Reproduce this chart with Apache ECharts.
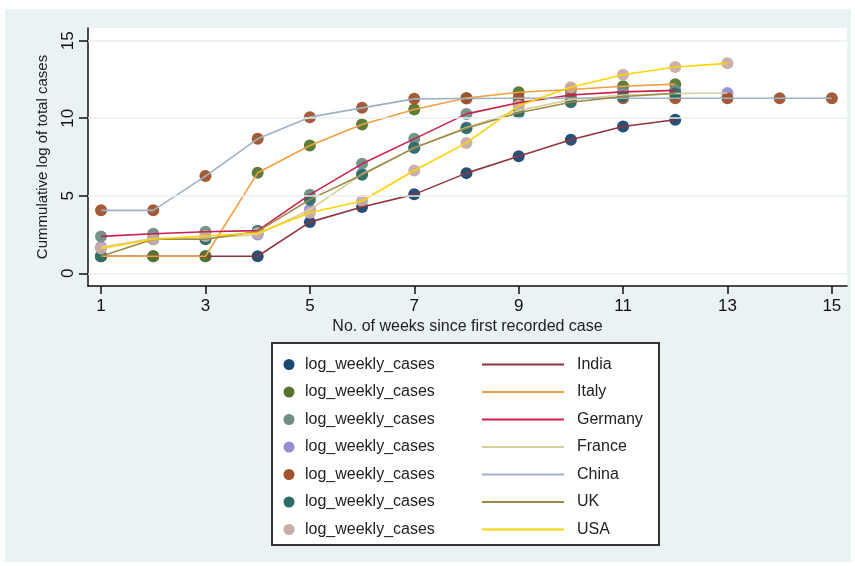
<!DOCTYPE html>
<html>
<head>
<meta charset="utf-8">
<script src="https://cdn.jsdelivr.net/npm/echarts@6/dist/echarts.min.js"></script>
<style>
  html, body { margin: 0; padding: 0; background: #ffffff; }
  #bg { position: absolute; left: 5px; top: 9px; width: 846px; height: 553px; background: #eaf2f3; }
  #chart { position: absolute; left: 0; top: 0; width: 855px; height: 566px; }
</style>
</head>
<body>
<div id="bg"></div>
<div id="chart"></div>
<script>
// ---- data ----
const countries = ['India', 'Italy', 'Germany', 'France', 'China', 'UK', 'USA'];
const weeks = [1, 2, 3, 4, 5, 6, 7, 8, 9, 10, 11, 12, 13, 14, 15];
const india   = [1.1, 1.1, 1.1, 1.1, 3.3, 4.27, 5.09, 6.46, 7.55, 8.61, 9.47, 9.9];
const italy   = [1.1, 1.1, 1.1, 6.48, 8.24, 9.6, 10.56, 11.3, 11.68, 11.85, 12.06, 12.2];
const germany = [2.38, 2.55, 2.68, 2.75, 5.07, 7.06, 8.67, 10.28, 11.0, 11.5, 11.7, 11.8];
const france  = [1.7, 2.25, 2.25, 2.5, 4.1, 6.4, 8.1, 9.4, 10.5, 11.2, 11.5, 11.6, 11.63];
const china   = [4.06, 4.06, 6.27, 8.67, 10.07, 10.67, 11.25, 11.27, 11.29, 11.29, 11.29, 11.29, 11.29, 11.29, 11.29];
const uk      = [1.1, 2.2, 2.2, 2.7, 4.75, 6.35, 8.09, 9.36, 10.35, 11.03, 11.4, 11.6];
const usa     = [1.6, 2.2, 2.4, 2.6, 3.9, 4.66, 6.63, 8.41, 10.8, 12.0, 12.8, 13.3, 13.54];
const seriesValues = [india, italy, germany, france, china, uk, usa];
const markerLabel = 'log_weekly_cases';
const xTicks = [1, 3, 5, 7, 9, 11, 13, 15];
const yTicks = [0, 5, 10, 15];
const yTitle = 'Cummulative log of total cases';
const xTitle = 'No. of weeks since first recorded case';

// ---- styles ----
const markerColors = ['#1a476f', '#55752f', '#6e8e84', '#938dd2', '#a0522d', '#2d6d66', '#c9aca6'];
const lineColors   = ['#90353b', '#f0a040', '#c8204a', '#d8d09a', '#9cb2c6', '#9c8847', '#ffd200'];
const FONT = '"Liberation Sans", Arial, sans-serif';

const series = [];
seriesValues.forEach((vals, i) => {
  const pts = vals.map((v, j) => [weeks[j], v]);
  const sc = {
    type: 'scatter',
    name: markerLabel + '_' + i,
    data: pts,
    symbol: 'circle',
    symbolSize: 12,
    itemStyle: { color: markerColors[i], opacity: 0.95 },
    silent: true
  };
  if (i === 0) {
    sc.markLine = {
      silent: true,
      symbol: ['none', 'none'],
      label: { show: false },
      lineStyle: { color: '#e8eff0', width: 1.5, type: 'solid' },
      data: yTicks.map(t => ({ yAxis: t }))
    };
  }
  series.push(sc);
  series.push({
    type: 'line',
    name: countries[i],
    data: pts,
    showSymbol: false,
    symbol: 'none',
    lineStyle: { color: lineColors[i], width: 1.6 },
    silent: true
  });
});

// legend drawn with graphic elements
const legendEls = [];
legendEls.push({
  type: 'rect',
  shape: { x: 272, y: 343, width: 387, height: 202 },
  style: { fill: '#ffffff', stroke: '#333333', lineWidth: 2 }
});
countries.forEach((c, i) => {
  const cy = 364.5 + i * 27.5;
  legendEls.push({ type: 'circle', shape: { cx: 289, cy: cy, r: 5.5 }, style: { fill: markerColors[i] } });
  legendEls.push({ type: 'text', x: 305, y: cy, style: { text: markerLabel, font: '16px ' + FONT, fill: '#222', verticalAlign: 'middle', align: 'left' } });
  legendEls.push({ type: 'line', shape: { x1: 482, y1: cy, x2: 564, y2: cy }, style: { stroke: lineColors[i], lineWidth: 2 } });
  legendEls.push({ type: 'text', x: 577, y: cy, style: { text: c, font: '16px ' + FONT, fill: '#222', verticalAlign: 'middle', align: 'left' } });
});

const chart = echarts.init(document.getElementById('chart'), null, { renderer: 'canvas' });
chart.setOption({
  animation: false,
  backgroundColor: 'transparent',
  textStyle: { fontFamily: FONT },
  grid: {
    left: 88, top: 28, right: 8, bottom: 280,
    show: true, backgroundColor: '#ffffff', borderWidth: 0
  },
  xAxis: {
    type: 'value',
    min: 0.75, max: 15.29,
    name: xTitle,
    nameLocation: 'middle',
    nameGap: 33,
    nameTextStyle: { fontSize: 16, color: '#222', fontFamily: FONT },
    axisLine: { show: true, onZero: false, lineStyle: { color: '#111', width: 1.5 } },
    axisTick: { show: true, length: 8, customValues: xTicks, lineStyle: { color: '#111', width: 1.5 } },
    axisLabel: { customValues: xTicks, fontSize: 17, color: '#111', margin: 12, fontFamily: FONT },
    splitLine: { show: false }
  },
  yAxis: {
    type: 'value',
    min: -0.82, max: 15.82,
    name: yTitle,
    nameLocation: 'middle',
    nameRotate: 90,
    nameGap: 38,
    nameTextStyle: { fontSize: 15, color: '#222', fontFamily: FONT },
    axisLine: { show: true, onZero: false, lineStyle: { color: '#111', width: 1.5 } },
    axisTick: { show: true, length: 9, customValues: yTicks, lineStyle: { color: '#111', width: 1.5 } },
    axisLabel: { customValues: yTicks, rotate: 90, fontSize: 17, color: '#111', margin: 11, fontFamily: FONT },
    splitLine: { show: false }
  },
  graphic: { elements: legendEls },
  series: series
});
</script>
</body>
</html>
